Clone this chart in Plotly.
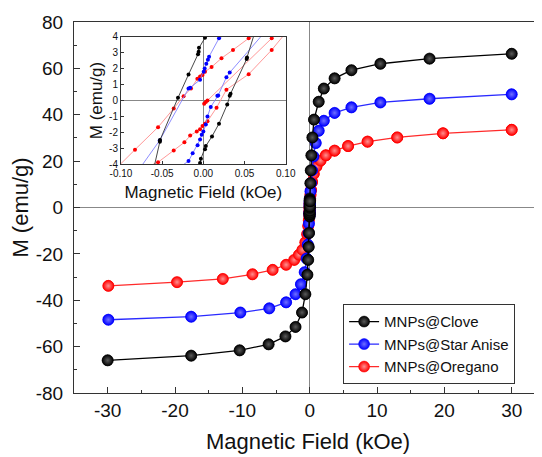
import plotly.graph_objects as go

# ---------------- data (kOe, emu/g) ----------------
series_names = ["MNPs@Clove", "MNPs@Star Anise", "MNPs@Oregano"]

# outer (main-plot) points, from far field toward zero
clove_pos_h = [30, 17.8, 10.5, 6.2, 3.7, 2.1, 1.34, 0.64, 0.4, 0.25, 0.16, 0.1]
clove_pos_m = [66.3, 64.2, 62.0, 59.2, 55.7, 51.3, 45.6, 37.9, 30.2, 22.5, 16.0, 10.5]
clove_neg_h = [-30, -17.6, -10.4, -6.1, -3.6, -2.1, -1.14, -0.64, -0.34, -0.22, -0.14, -0.09]
clove_neg_m = [-65.9, -63.9, -61.6, -59.0, -55.6, -51.5, -45.3, -37.4, -29.0, -22.6, -17.0, -11.0]

anise_pos_h = [30, 17.8, 10.5, 6.2, 3.7, 2.1, 1.34, 0.9, 0.55, 0.35, 0.2, 0.12]
anise_pos_m = [48.8, 46.9, 45.3, 43.2, 40.8, 37.4, 33.1, 27.8, 22.0, 16.0, 10.5, 7.0]
anise_neg_h = [-29.9, -17.6, -10.3, -6.0, -3.5, -2.1, -1.3, -0.74, -0.45, -0.28, -0.17, -0.11]
anise_neg_m = [-48.4, -47.1, -45.3, -43.5, -40.9, -37.4, -33.1, -27.9, -22.0, -16.0, -11.0, -7.0]

oregano_pos_h = [30, 19.8, 13.0, 8.6, 5.7, 3.7, 2.4, 1.6, 1.0, 0.6, 0.35, 0.2, 0.12]
oregano_pos_m = [33.5, 32.0, 30.2, 28.4, 26.5, 24.5, 22.5, 20.2, 17.7, 14.5, 11.0, 7.5, 5.5]
oregano_neg_h = [-29.9, -19.7, -12.9, -8.5, -5.5, -3.5, -2.3, -1.6, -1.08, -0.65, -0.38, -0.22, -0.13]
oregano_neg_m = [-33.8, -32.2, -30.8, -28.8, -26.9, -24.7, -22.6, -20.4, -18.3, -15.0, -11.5, -8.0, -5.5]

# low-field loop points (inset), descending and ascending branches
clove_desc_h = [0.002, -0.0053, -0.0057, -0.0065, -0.018, -0.0308, -0.0526, -0.0528]
clove_desc_m = [3.93, 3.3, 3.05, 2.9, 1.63, 0.17, -2.48, -2.58]
clove_asc_h = [-0.004, -0.003, 0.002, 0.003, 0.0105, 0.019, 0.029, 0.032, 0.033, 0.0526, 0.053]
clove_asc_m = [-3.92, -3.65, -3.05, -2.85, -2.25, -1.45, -0.25, 0.3, 0.42, 2.6, 2.7]

anise_desc_h = [0.019, 0.0069, 0.0055, 0.0036, 0.0016, 0.0004, -0.004, -0.016, -0.018, -0.053]
anise_desc_m = [3.9, 2.75, 2.55, 2.3, 2.0, 1.8, 1.3, 0.8, 0.75, -2.5]
anise_asc_h = [-0.018, -0.013, -0.007, -0.004, -0.002, 0.0, 0.003, 0.005, 0.009, 0.017, 0.018, 0.028, 0.032]
anise_asc_m = [-3.8, -3.3, -2.8, -2.45, -2.15, -1.95, -1.5, -1.0, -0.4, 0.3, 0.32, 1.46, 1.75]

oregano_virgin_h = [0.001, 0.003, 0.005, 0.083]
oregano_virgin_m = [-0.2, -0.1, 0.0, 3.9]
oregano_desc_h = [0.055, 0.036, 0.022, 0.010, 0.002, -0.001, -0.004, -0.0073, -0.015, -0.024, -0.036, -0.055, -0.083]
oregano_desc_m = [3.9, 3.17, 2.65, 2.1, 1.8, 1.6, 1.5, 1.36, 0.75, 0.27, -0.5, -1.67, -3.08]
oregano_asc_h = [-0.055, -0.036, -0.023, -0.016, -0.008, -0.004, -0.001, 0.002, 0.005, 0.016, 0.028, 0.055, 0.083]
oregano_asc_m = [-3.87, -3.14, -2.62, -2.2, -1.95, -1.8, -1.6, -1.46, -1.3, -0.45, 0.68, 1.65, 3.17]

x_ticks = [-30, -20, -10, 0, 10, 20, 30]
x_ticktext = ["-30", "-20", "-10", "0", "10", "20", "30"]
y_ticks = [-80, -60, -40, -20, 0, 20, 40, 60, 80]
y_ticktext = ["-80", "-60", "-40", "-20", "0", "20", "40", "60", "80"]
ix_ticks = [-0.10, -0.05, 0.0, 0.05, 0.10]
ix_ticktext = ["-0.10", "-0.05", "0.00", "0.05", "0.10"]
iy_ticks = [-4, -3, -2, -1, 0, 1, 2, 3, 4]
iy_ticktext = ["-4", "-3", "-2", "-1", "0", "1", "2", "3", "4"]
x_title = "Magnetic Field (kOe)"
y_title = "M (emu/g)"


def loop(pos_h, pos_m, neg_h, neg_m, dh, dm, ah, am, vh=None, vm=None):
    hx, my = [], []
    if vh is not None:
        hx += vh + pos_h[::-1]
        my += vm + pos_m[::-1]
    hx += pos_h + dh + neg_h[::-1] + neg_h + ah + pos_h[::-1]
    my += pos_m + dm + neg_m[::-1] + neg_m + am + pos_m[::-1]
    return hx, my


clove_x, clove_y = loop(clove_pos_h, clove_pos_m, clove_neg_h, clove_neg_m,
                        clove_desc_h, clove_desc_m, clove_asc_h, clove_asc_m)
anise_x, anise_y = loop(anise_pos_h, anise_pos_m, anise_neg_h, anise_neg_m,
                        anise_desc_h, anise_desc_m, anise_asc_h, anise_asc_m)
oreg_x, oreg_y = loop(oregano_pos_h, oregano_pos_m, oregano_neg_h, oregano_neg_m,
                      oregano_desc_h, oregano_desc_m, oregano_asc_h, oregano_asc_m,
                      oregano_virgin_h, oregano_virgin_m)

styles = [
    # name, x, y, color, line color, highlight, inset line color
    (series_names[2], oreg_x, oreg_y, "#ff0000", "#ff2a2a", "#ff9090", "#ff8c8c"),
    (series_names[1], anise_x, anise_y, "#0000ff", "#2a2aff", "#7070ff", "#8080ff"),
    (series_names[0], clove_x, clove_y, "#000000", "#000000", "#5a5a5a", "#333333"),
]

fig = go.Figure()
FONT = "Liberation Sans, Arial, sans-serif"
TXT = "#111111"

for name, x, y, col, lcol, hi, icol in styles:
    fig.add_trace(go.Scatter(
        x=x, y=y, name=name, mode="lines+markers",
        line=dict(color=lcol, width=1.3),
        marker=dict(size=11, color=col, symbol="circle",
                    gradient=dict(type="radial", color=hi),
                    line=dict(color=col, width=0.5)),
        xaxis="x", yaxis="y", showlegend=True,
    ))

for name, x, y, col, lcol, hi, icol in styles:
    fig.add_trace(go.Scatter(
        x=x, y=y, name=name, mode="lines+markers",
        line=dict(color=icol, width=0.9),
        marker=dict(size=4, color=col, symbol="circle"),
        xaxis="x2", yaxis="y2", showlegend=False,
    ))

# the page body has an 8 px margin; the figure is sized to fill the rest
fig.update_layout(
    width=534, height=449,
    margin=dict(l=66, r=0, t=14, b=64),
    paper_bgcolor="white", plot_bgcolor="white",
    font=dict(family=FONT, color=TXT),
    showlegend=True,
    legend=dict(
        x=0.575, y=0.239, xanchor="left", yanchor="top",
        traceorder="reversed",
        bgcolor="white", bordercolor="#333333", borderwidth=1,
        font=dict(size=15, family=FONT, color=TXT),
        itemwidth=30, tracegroupgap=0,
    ),
    xaxis=dict(
        domain=[0, 1], range=[-35, 34.5],
        tickmode="array", tickvals=x_ticks, ticktext=x_ticktext,
        ticks="inside", ticklen=6, tickwidth=1, tickcolor="#333333",
        minor=dict(ticks="inside", ticklen=3, dtick=5, tick0=0, tickcolor="#333333"),
        showline=True, linecolor="#333333", linewidth=1.2, mirror=True,
        showgrid=False, zeroline=True, zerolinecolor="#888888", zerolinewidth=1,
        tickfont=dict(size=19, family=FONT, color=TXT),
        automargin=False,
    ),
    yaxis=dict(
        domain=[0, 1], range=[-80, 80],
        tickmode="array", tickvals=y_ticks, ticktext=y_ticktext,
        ticks="inside", ticklen=6, tickwidth=1, tickcolor="#333333",
        minor=dict(ticks="inside", ticklen=3, dtick=10, tick0=0, tickcolor="#333333"),
        showline=True, linecolor="#333333", linewidth=1.2, mirror=True,
        showgrid=False, zeroline=True, zerolinecolor="#888888", zerolinewidth=1,
        tickfont=dict(size=19, family=FONT, color=TXT),
        ticklabelstandoff=6,
        automargin=False,
        title=dict(text=y_title, font=dict(size=22, family=FONT, color=TXT), standoff=4),
    ),
    xaxis2=dict(
        domain=[0.1004, 0.4524], range=[-0.1, 0.1], anchor="y2",
        tickmode="array", tickvals=ix_ticks, ticktext=ix_ticktext,
        ticks="inside", ticklen=3, tickcolor="#333333",
        showline=True, linecolor="#333333", linewidth=1, mirror=True,
        showgrid=False, zeroline=True, zerolinecolor="#888888", zerolinewidth=1,
        tickfont=dict(size=10, family=FONT, color=TXT),
        automargin=False,
        title=dict(text=x_title, font=dict(size=17, family=FONT, color=TXT), standoff=7),
    ),
    yaxis2=dict(
        domain=[0.6164, 0.9604], range=[-4, 4], anchor="x2",
        tickmode="array", tickvals=iy_ticks, ticktext=iy_ticktext,
        ticks="inside", ticklen=3, tickcolor="#333333",
        showline=True, linecolor="#333333", linewidth=1, mirror=True,
        showgrid=False, zeroline=True, zerolinecolor="#888888", zerolinewidth=1,
        tickfont=dict(size=10, family=FONT, color=TXT),
        automargin=False,
        title=dict(text=y_title, font=dict(size=17, family=FONT, color=TXT), standoff=2),
    ),
    annotations=[dict(
        text=x_title, xref="paper", yref="paper", x=0.5, y=-0.132,
        xanchor="center", yanchor="middle", showarrow=False,
        font=dict(size=22, family=FONT, color=TXT),
    )],
)

fig.write_html("out.html")
